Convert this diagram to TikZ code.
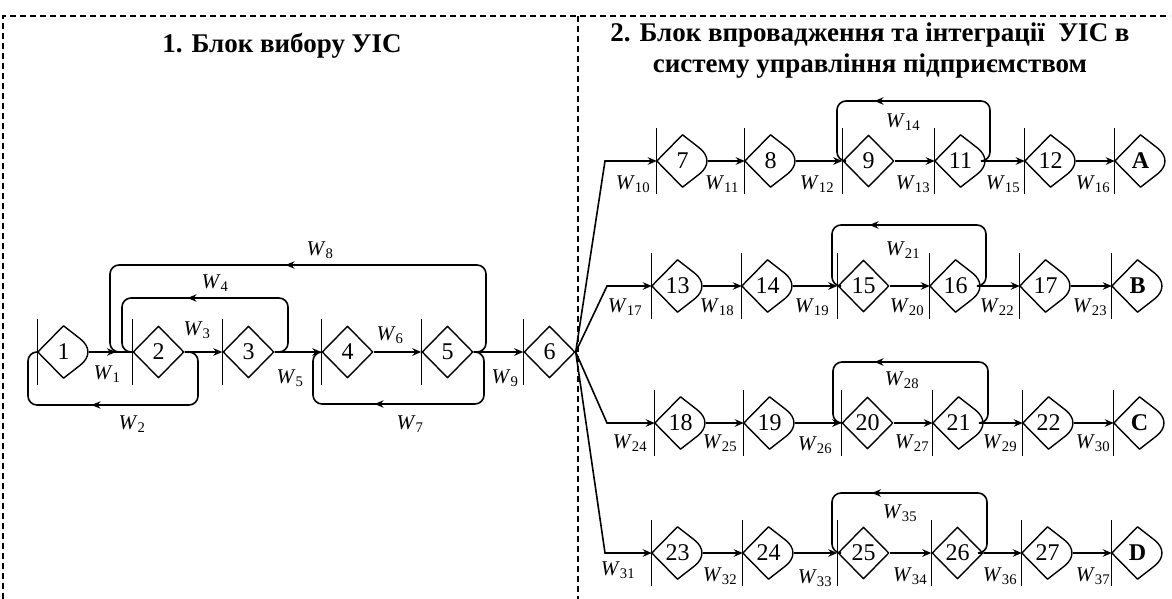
\documentclass[tikz,border=0pt]{standalone}
\usepackage{fontspec}
\setmainfont{Liberation Serif}
\newfontfamily\tnr{Liberation Serif}
\usetikzlibrary{arrows.meta,calc,decorations.markings,shapes.geometric}
\tikzset{
 dia/.style={shape=diamond, minimum width=51pt, minimum height=52pt, inner sep=0pt, font=\tnr\fontsize{24}{24}\selectfont},
 outl/.style={line width=1.4pt, line join=round},
 barl/.style={line width=1.3pt},
 conn/.style={line width=1.6pt, -{Stealth[length=9pt,width=7.5pt]}},
 loopl/.style={line width=1.6pt, rounded corners=9pt},
 lbl/.style={font=\tnr\fontsize{21}{21}\selectfont, inner sep=0pt},
 frame/.style={line width=1.3pt, dash pattern=on 6pt off 4pt},
 ttl/.style={font=\tnr\fontsize{27}{31}\selectfont\bfseries, align=center, inner sep=0pt},
 midarrow/.style={postaction={decorate}, decoration={markings, mark=at position #1 with {\arrow{Stealth[length=9pt,width=7.5pt]}}}},
}
\newcommand\Pn[4]{%
 \node[dia,draw,outl] (#1) at ({#2+25.5},#3) {#4};
 \draw[barl] ($(#1.west)+(0,-33)$) -- ($(#1.west)+(0,33)$);}
\newcommand\Rn[4]{%
 \node[dia] (#1) at ({#2+25.5},#3) {#4};
 \coordinate (#1v) at ($(#1.east)+(8,0)$);
 \draw[outl] (#1.west) -- (#1.north) -- ($(#1v)!0.5!(#1.north)$) .. controls ($(#1v)!0.2!(#1.north)$) and ($(#1v)!0.2!(#1.south)$) .. ($(#1v)!0.5!(#1.south)$) -- (#1.south) -- cycle;
 \draw[barl] ($(#1.west)+(0,-33)$) -- ($(#1.west)+(0,33)$);}
\newcommand\Wl[4]{\node[lbl] (w#1) at (#2,#3) {\textit{W}\textsubscript{#4}};}
\begin{document}
\begin{tikzpicture}[x=1pt,y=-1pt]
\useasboundingbox (0,0) rectangle (1172,599);
% frame
\coordinate (ftl) at (3,16);
\coordinate (ftr) at (1170,16);
\coordinate (fbl) at (3,599);
\coordinate (fdt) at (578,16);
\coordinate (fdb) at (578,599);
\draw[frame] (fbl) -- (ftl) -- (ftr);
\draw[frame] (fdt) -- (fdb);
% titles
\node[ttl] (t1) at (282,46) {1. Блок вибору УІС};
\node[ttl] (t2) at (870,51) {2. Блок впровадження та інтеграції \ УІС в\\систему управління підприємством};
% left block
\Rn{n1}{38}{352}{1}
\Pn{n2}{133}{352}{2}
\Pn{n3}{223}{352}{3}
\Pn{n4}{322}{352}{4}
\Pn{n5}{422}{352}{5}
\Pn{n6}{524}{352}{6}
\draw[line width=1.6pt, midarrow=0.62] (n1.east) -- (n2.west);
\draw[conn] (n2.east) -- (n3.west);
\draw[conn] (n3.east) -- (n4.west);
\draw[conn, line width=2.6pt] (n4.east) -- (n5.west);
\draw[conn] (n5.east) -- (n6.west);
\draw[loopl, midarrow=160pt] (n3.east) -- (288,352) -- (288,298) -- (122,298) -- (122,352) -- (n2.west);
\draw[loopl, midarrow=292pt] (n5.east) -- (486,352) -- (486,265) -- (110,265) -- (110,352) -- (n2.west);
\draw[loopl, midarrow=165pt] (n2.east) -- (198,352) -- (198,405) -- (28,405) -- (28,352) -- (n1.west);
\draw[loopl, midarrow=164pt] (n5.east) -- (484,352) -- (484,404) -- (313,404) -- (313,352) -- (n4.west);
\Wl{1}{107}{374}{1}
\Wl{3}{197}{330}{3}
\Wl{5}{290}{378}{5}
\Wl{6}{390}{335}{6}
\Wl{9}{505}{378}{9}
\Wl{2}{132}{424}{2}
\Wl{7}{410}{424}{7}
\Wl{4}{215}{283}{4}
\Wl{8}{320}{250}{8}
% row 1
\Rn{n7}{657}{161}{7}
\Rn{n8}{745}{161}{8}
\Pn{n9}{843}{161}{9}
\Rn{n11}{935}{161}{11}
\Rn{n12}{1025}{161}{12}
\Rn{nA}{1115}{161}{\bfseries A}
% row 2
\Rn{n13}{652}{286}{13}
\Rn{n14}{742}{286}{14}
\Pn{n15}{838}{286}{15}
\Rn{n16}{930}{286}{16}
\Rn{n17}{1020}{286}{17}
\Rn{nB}{1112}{286}{\bfseries B}
% row 3
\Rn{n18}{655}{423}{18}
\Rn{n19}{744}{423}{19}
\Pn{n20}{842}{423}{20}
\Rn{n21}{933}{423}{21}
\Rn{n22}{1023}{423}{22}
\Rn{nC}{1114}{423}{\bfseries C}
% row 4
\Rn{n23}{652}{553}{23}
\Rn{n24}{743}{553}{24}
\Pn{n25}{838}{553}{25}
\Pn{n26}{932}{553}{26}
\Rn{n27}{1022}{553}{27}
\Rn{nD}{1112}{553}{\bfseries D}
% fan
\coordinate (f1) at (605,161);
\coordinate (f2) at (607,286);
\coordinate (f3) at (607,423);
\coordinate (f4) at (605,553);
\draw[conn] (n6.east) -- (f1) -- (n7.west);
\draw[conn] (n6.east) -- (f2) -- (n13.west);
\draw[conn] (n6.east) -- (f3) -- (n18.west);
\draw[conn] (n6.east) -- (f4) -- (n23.west);
% row arrows
\foreach \a/\b in {n7/n8,n8/n9,n9/n11,n11/n12,n12/nA,
                   n13/n14,n14/n15,n15/n16,n16/n17,n17/nB,
                   n18/n19,n19/n20,n20/n21,n21/n22,n22/nC,
                   n23/n24,n24/n25,n25/n26,n26/n27,n27/nD}
  \draw[conn] (\a.east) -- (\b.west);
% right loops
\draw[loopl, midarrow=182pt] (n11.east) -- (990,161) -- (990,101) -- (837,101) -- (837,161) -- (n9.west);
\draw[loopl, midarrow=183pt] (n16.east) -- (986,286) -- (986,225) -- (832,225) -- (832,286) -- (n15.west);
\draw[loopl, midarrow=181pt] (n21.east) -- (988,423) -- (988,362) -- (833,362) -- (833,423) -- (n20.west);
\draw[loopl, midarrow=182pt] (n26.east) -- (987,553) -- (987,493) -- (832,493) -- (832,553) -- (n25.west);
% labels right
\Wl{10}{633}{184}{10}
\Wl{11}{722}{184}{11}
\Wl{12}{817}{184}{12}
\Wl{13}{913}{184}{13}
\Wl{15}{1003}{184}{15}
\Wl{16}{1093}{184}{16}
\Wl{14}{903}{122}{14}
\Wl{17}{625}{307}{17}
\Wl{18}{717}{307}{18}
\Wl{19}{812}{307}{19}
\Wl{20}{907}{307}{20}
\Wl{22}{997}{307}{22}
\Wl{23}{1090}{307}{23}
\Wl{21}{903}{250}{21}
\Wl{24}{630}{443}{24}
\Wl{25}{720}{443}{25}
\Wl{26}{815}{445}{26}
\Wl{27}{912}{443}{27}
\Wl{29}{1000}{443}{29}
\Wl{30}{1093}{443}{30}
\Wl{28}{902}{380}{28}
\Wl{31}{618}{570}{31}
\Wl{32}{720}{576}{32}
\Wl{33}{815}{578}{33}
\Wl{34}{910}{576}{34}
\Wl{36}{1000}{576}{36}
\Wl{37}{1093}{576}{37}
\Wl{35}{900}{513}{35}
\end{tikzpicture}
\end{document}
